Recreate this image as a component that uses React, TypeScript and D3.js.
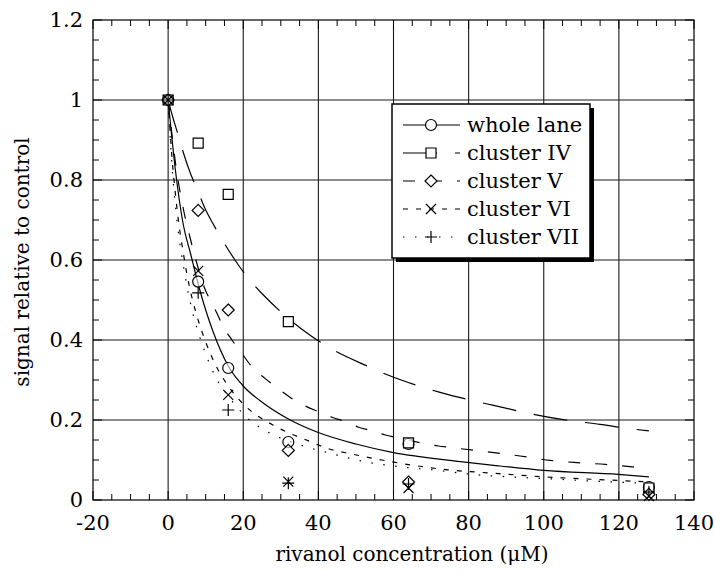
import { useEffect, useRef } from 'react';
import * as d3 from 'd3';

const W = 714;
const H = 570;
const FONT = '"DejaVu Serif", serif';

const X_TICKS = [-20, 0, 20, 40, 60, 80, 100, 120, 140];
const Y_TICKS = [0, 0.2, 0.4, 0.6, 0.8, 1, 1.2];

// measured points (rivanol dose, µM)
const DOSES = [0, 8, 16, 32, 64, 128];
const WHOLE_PTS = [1, 0.546, 0.33, 0.145, 0.14, 0.032];
const IV_PTS = [1, 0.892, 0.764, 0.446, 0.143, 0.03];
const V_PTS = [1, 0.724, 0.475, 0.124, 0.045, 0.014];
const VI_PTS = [1, 0.573, 0.263, 0.046, 0.03, 0.01];
const VII_PTS = [1, 0.518, 0.225, 0.042, 0.04, 0.02];

// fitted curves as [x, y]
const WHOLE_FIT: [number, number][] = [
  [0, 1], [2, 0.82], [4, 0.69], [6, 0.615], [8, 0.54], [10, 0.475], [12, 0.42], [16, 0.335],
  [20.5, 0.28], [24.5, 0.248], [32.5, 0.2], [39.6, 0.17], [50, 0.14], [59.7, 0.119],
  [77.8, 0.096], [88.4, 0.085], [100, 0.074], [119.9, 0.064], [128, 0.058],
];
const IV_FIT: [number, number][] = [
  [0, 1], [1.3, 0.955], [2.7, 0.912], [4, 0.87], [6, 0.815], [7.6, 0.78], [9.85, 0.728],
  [12, 0.69], [14.3, 0.652], [17.8, 0.6], [21, 0.558], [25.1, 0.515], [30.3, 0.468],
  [37.8, 0.412], [44, 0.375], [53, 0.335], [58.5, 0.3125], [67.1, 0.284], [72.4, 0.269],
  [85, 0.24], [104.4, 0.202], [115, 0.189], [124, 0.177], [128, 0.173],
];
const V_FIT: [number, number][] = [
  [0, 1], [2, 0.84], [4, 0.73], [6, 0.65], [8, 0.58], [9.9, 0.525], [11.2, 0.5], [13, 0.467],
  [14.3, 0.44], [17, 0.4], [19.6, 0.367], [22.3, 0.333], [25.8, 0.304], [29.8, 0.275],
  [32.9, 0.254], [36.5, 0.235], [40, 0.221], [43.6, 0.207], [47.1, 0.196], [50.7, 0.182],
  [54.2, 0.173], [57.8, 0.1625], [60.9, 0.156], [72, 0.135], [75.5, 0.131], [93.7, 0.11],
  [101.7, 0.099], [109.7, 0.093], [116.4, 0.089], [123.5, 0.083], [128, 0.08],
];
const VI_FIT: [number, number][] = [
  [0, 1], [1, 0.86], [2, 0.76], [3, 0.68], [4, 0.62], [5, 0.565], [6.5, 0.5], [8, 0.45],
  [10, 0.395], [12.5, 0.34], [16, 0.285], [20, 0.24], [28, 0.187], [32, 0.168], [36, 0.153],
  [43.1, 0.127], [48.9, 0.115], [56.9, 0.1], [64.4, 0.088], [73.8, 0.076], [84.9, 0.068],
  [100, 0.058], [108, 0.054], [121.7, 0.048], [128, 0.045],
];
const VII_FIT: [number, number][] = [
  [0, 1], [1, 0.84], [2, 0.73], [3, 0.65], [4, 0.59], [5, 0.535], [6.5, 0.47], [8, 0.42],
  [10, 0.365], [12.5, 0.31], [16, 0.26], [20, 0.215], [28, 0.163], [32, 0.148], [36, 0.135],
  [43.1, 0.117], [50.2, 0.1], [60.9, 0.084], [70.7, 0.075], [82.2, 0.063], [92.8, 0.057],
  [103.5, 0.052], [115.8, 0.046], [128, 0.042],
];

const SERIES = [
  { name: 'whole lane', pts: WHOLE_PTS, fit: WHOLE_FIT, dash: null, marker: 'circle' },
  { name: 'cluster IV', pts: IV_PTS, fit: IV_FIT, dash: '34,18', marker: 'square' },
  { name: 'cluster V', pts: V_PTS, fit: V_FIT, dash: '12,15', marker: 'diamond' },
  { name: 'cluster VI', pts: VI_PTS, fit: VI_FIT, dash: '5,8', marker: 'cross' },
  { name: 'cluster VII', pts: VII_PTS, fit: VII_FIT, dash: '1.5,10.5', marker: 'plus' },
];

function markerPath(type: string) {
  switch (type) {
    case 'square': return 'M-5,-5H5V5H-5Z';
    case 'diamond': return 'M0,-6L6,0L0,6L-6,0Z';
    case 'cross': return 'M-5,-5L5,5M-5,5L5,-5';
    case 'plus': return 'M-6,0H6M0,-6V6';
    default: return 'M-5.5,0A5.5,5.5 0 1,0 5.5,0A5.5,5.5 0 1,0 -5.5,0Z';
  }
}

export default function App() {
  const svgRef = useRef<SVGSVGElement>(null);

  useEffect(() => {
    document.body.style.margin = '0';
    const svg = d3.select(svgRef.current);
    svg.selectAll('*').remove();

    const x = d3.scaleLinear().domain([-20, 140]).range([93, 694]);
    const y = d3.scaleLinear().domain([0, 1.2]).range([500, 20]);
    const [x0, x1] = x.range();
    const [y0, y1] = y.range();

    const g = svg.append('g');

    // grid
    X_TICKS.slice(1, -1).forEach(t => {
      g.append('line').attr('x1', x(t)).attr('x2', x(t)).attr('y1', y0).attr('y2', y1)
        .attr('stroke', '#1a1a1a').attr('stroke-width', 1.1);
    });
    Y_TICKS.slice(1, -1).forEach(t => {
      g.append('line').attr('x1', x0).attr('x2', x1).attr('y1', y(t)).attr('y2', y(t))
        .attr('stroke', '#1a1a1a').attr('stroke-width', 1.1);
    });

    // minor ticks, inside on all four sides
    d3.range(-20, 140.1, 5).forEach(t => {
      const len = t % 20 === 0 ? 9 : 6;
      g.append('line').attr('x1', x(t)).attr('x2', x(t)).attr('y1', y0).attr('y2', y0 - len).attr('stroke', '#000');
      g.append('line').attr('x1', x(t)).attr('x2', x(t)).attr('y1', y1).attr('y2', y1 + len).attr('stroke', '#000');
    });
    d3.range(0, 1.2001, 0.05).forEach(t => {
      const len = Math.abs(t * 5 - Math.round(t * 5)) < 1e-6 ? 9 : 6;
      g.append('line').attr('x1', x0).attr('x2', x0 + len).attr('y1', y(t)).attr('y2', y(t)).attr('stroke', '#000');
      g.append('line').attr('x1', x1).attr('x2', x1 - len).attr('y1', y(t)).attr('y2', y(t)).attr('stroke', '#000');
    });

    g.append('rect').attr('x', x0).attr('y', y1).attr('width', x1 - x0).attr('height', y0 - y1)
      .attr('fill', 'none').attr('stroke', '#000').attr('stroke-width', 1.2);

    // tick labels
    X_TICKS.forEach(t => {
      g.append('text').attr('x', x(t)).attr('y', 530).attr('text-anchor', 'middle')
        .attr('font-family', FONT).attr('font-size', 21).attr('fill', '#000').text(t);
    });
    Y_TICKS.forEach(t => {
      g.append('text').attr('x', 83).attr('y', y(t) + 7).attr('text-anchor', 'end')
        .attr('font-family', FONT).attr('font-size', 21).attr('fill', '#000').text(t);
    });

    // axis titles
    g.append('text').attr('x', 412).attr('y', 561).attr('text-anchor', 'middle')
      .attr('font-family', FONT).attr('font-size', 20).attr('fill', '#000')
      .text('rivanol concentration (\u03bcM)');
    g.append('text').attr('transform', `translate(29,262) rotate(-90)`).attr('text-anchor', 'middle')
      .attr('font-family', FONT).attr('font-size', 20).attr('fill', '#000')
      .text('signal relative to control');

    // fitted curves
    const line = d3.line<[number, number]>().x(d => x(d[0])).y(d => y(d[1])).curve(d3.curveMonotoneX);
    SERIES.forEach(s => {
      g.append('path').attr('d', line(s.fit)).attr('fill', 'none').attr('stroke', '#000')
        .attr('stroke-width', 1.2).attr('stroke-dasharray', s.dash ?? null);
    });

    // measured points
    SERIES.forEach(s => {
      s.pts.forEach((v, i) => {
        const open = s.marker === 'circle' || s.marker === 'square' || s.marker === 'diamond';
        g.append('path').attr('d', markerPath(s.marker))
          .attr('transform', `translate(${x(DOSES[i])},${y(v)})`)
          .attr('fill', open ? 'rgba(255,255,255,0.6)' : 'none')
          .attr('stroke', '#000').attr('stroke-width', 1.2);
      });
    });

    // legend
    const lg = g.append('g');
    lg.append('rect').attr('x', 396).attr('y', 108).attr('width', 198).attr('height', 154).attr('fill', '#000');
    lg.append('rect').attr('x', 392).attr('y', 104).attr('width', 198).attr('height', 154)
      .attr('fill', '#fff').attr('stroke', '#000').attr('stroke-width', 1.5);
    SERIES.forEach((s, i) => {
      const ry = 125 + i * 28;
      lg.append('line').attr('x1', 403).attr('x2', 460).attr('y1', ry).attr('y2', ry)
        .attr('stroke', '#000').attr('stroke-width', 1.2).attr('stroke-dasharray', s.dash ?? null);
      lg.append('path').attr('d', markerPath(s.marker)).attr('transform', `translate(431,${ry})`)
        .attr('fill', '#fff').attr('stroke', '#000').attr('stroke-width', 1.2);
      lg.append('text').attr('x', 467).attr('y', ry + 7).attr('font-family', FONT).attr('font-size', 21)
        .attr('fill', '#000').text(s.name);
    });
  }, []);

  return (
    <svg ref={svgRef} width={W} height={H} style={{ display: 'block', background: '#fff' }} />
  );
}
